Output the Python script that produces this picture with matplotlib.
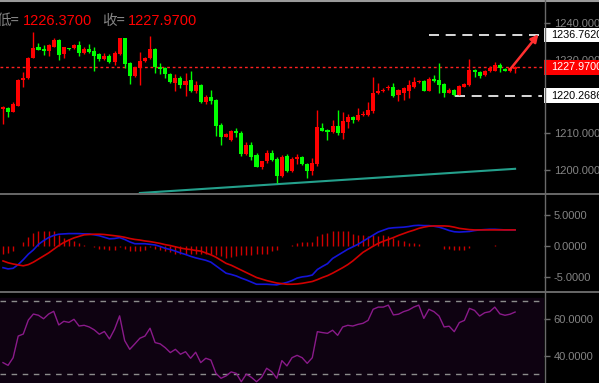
import numpy as np
import matplotlib
matplotlib.use('Agg')
import matplotlib.pyplot as plt
import matplotlib.transforms as mtransforms
from matplotlib.patches import Rectangle
from matplotlib.lines import Line2D

plt.rcParams['font.family'] = ['Liberation Sans', 'Noto Sans CJK SC', 'DejaVu Sans']

# candles (red = up, green = down)
opens = [1216.6, 1217.0, 1215.9, 1217.5, 1224.5, 1225.0, 1230.6, 1233.4, 1233.0, 1232.3,
         1233.6, 1235.5, 1231.6, 1233.2, 1233.2, 1234.1, 1231.8, 1233.0, 1232.3, 1231.6,
         1230.2, 1231.1, 1229.3, 1231.6, 1235.9, 1229.1, 1225.6, 1227.9, 1229.6, 1230.5,
         1233.0, 1228.0, 1227.7, 1226.2, 1223.8, 1225.0, 1223.2, 1224.5, 1221.4, 1223.2,
         1218.4, 1220.0, 1219.1, 1212.3, 1209.1, 1208.2, 1210.6, 1210.2, 1204.4, 1206.8,
         1204.1, 1200.9, 1202.3, 1204.5, 1203.0, 1198.4, 1203.8, 1199.7, 1202.9, 1203.5,
         1201.6, 1199.7, 1201.6, 1211.5, 1210.9, 1210.4, 1212.0, 1210.2, 1213.2, 1214.5,
         1213.6, 1215.0, 1215.0, 1216.1, 1220.9, 1221.4, 1222.3, 1222.6, 1220.3, 1220.9,
         1221.4, 1222.6, 1223.9, 1224.3, 1221.6, 1224.7, 1224.5, 1223.5, 1221.1, 1221.8,
         1220.5, 1222.7, 1223.2, 1227.3, 1226.8, 1225.9, 1226.9, 1227.1, 1228.6, 1227.5,
         1227.0, 1227.5]
highs = [1217.5, 1217.2, 1218.5, 1224.7, 1226.8, 1230.8, 1237.6, 1234.6, 1234.1, 1234.4,
         1235.9, 1235.7, 1233.6, 1233.3, 1234.4, 1235.2, 1233.5, 1234.4, 1233.4, 1231.8,
         1231.8, 1231.5, 1232.3, 1236.1, 1236.1, 1229.4, 1228.2, 1232.1, 1230.8, 1236.4,
         1233.2, 1229.1, 1228.0, 1226.4, 1226.2, 1225.6, 1226.4, 1227.0, 1224.3, 1223.5,
         1220.3, 1221.8, 1219.3, 1212.9, 1210.1, 1210.9, 1211.4, 1210.6, 1207.7, 1207.7,
         1204.7, 1202.5, 1205.3, 1205.3, 1203.5, 1204.1, 1204.4, 1203.6, 1204.4, 1203.7,
         1201.9, 1203.2, 1216.4, 1212.9, 1211.1, 1213.6, 1216.4, 1215.9, 1215.3, 1214.7,
         1217.0, 1216.1, 1218.4, 1225.4, 1223.6, 1222.3, 1223.2, 1223.8, 1222.0, 1222.5,
         1224.5, 1225.3, 1224.6, 1224.5, 1225.4, 1225.9, 1229.1, 1223.7, 1222.4, 1222.0,
         1223.1, 1223.6, 1230.2, 1227.5, 1227.0, 1227.3, 1228.4, 1229.3, 1229.1, 1227.7,
         1228.0, 1228.3]
lows = [1212.5, 1214.5, 1215.7, 1217.3, 1222.7, 1224.8, 1230.4, 1232.6, 1231.4, 1231.2,
        1233.4, 1230.0, 1230.6, 1232.8, 1233.0, 1231.1, 1231.5, 1231.9, 1227.1, 1229.8,
        1230.0, 1229.1, 1228.6, 1231.4, 1227.9, 1223.5, 1225.4, 1223.2, 1229.4, 1230.3,
        1226.5, 1226.1, 1225.2, 1223.8, 1221.6, 1222.3, 1220.2, 1221.2, 1220.9, 1218.2,
        1218.0, 1218.0, 1209.3, 1206.8, 1208.9, 1208.0, 1209.1, 1203.8, 1204.1, 1202.7,
        1200.7, 1200.3, 1201.8, 1202.3, 1196.5, 1198.0, 1199.5, 1199.4, 1201.6, 1201.4,
        1197.7, 1198.6, 1201.1, 1210.5, 1208.2, 1210.2, 1209.5, 1208.4, 1211.5, 1212.9,
        1213.4, 1214.8, 1214.8, 1215.5, 1220.7, 1221.2, 1221.8, 1220.0, 1218.8, 1219.1,
        1219.6, 1222.4, 1223.7, 1221.4, 1221.4, 1224.0, 1220.9, 1220.0, 1220.9, 1220.2,
        1220.3, 1222.5, 1223.0, 1225.3, 1225.0, 1225.6, 1226.7, 1226.9, 1226.8, 1226.9,
        1226.6, 1226.37]
closes = [1217.2, 1215.9, 1218.0, 1224.5, 1225.2, 1230.6, 1233.2, 1232.8, 1232.3, 1234.1,
          1235.5, 1231.4, 1233.4, 1232.9, 1234.1, 1232.0, 1232.9, 1232.1, 1231.2, 1230.2,
          1231.1, 1229.3, 1232.0, 1235.9, 1228.9, 1225.6, 1228.0, 1229.7, 1230.6, 1233.0,
          1228.0, 1227.5, 1226.1, 1224.1, 1225.0, 1223.2, 1224.3, 1221.4, 1223.2, 1218.4,
          1220.0, 1218.9, 1212.0, 1209.1, 1209.8, 1210.6, 1210.0, 1204.4, 1206.8, 1203.6,
          1200.9, 1202.3, 1204.7, 1202.7, 1198.4, 1203.5, 1199.7, 1202.9, 1203.5, 1201.6,
          1199.7, 1201.8, 1211.8, 1210.7, 1210.4, 1212.0, 1210.2, 1213.4, 1214.5, 1213.6,
          1215.0, 1215.3, 1216.4, 1221.1, 1221.6, 1221.6, 1222.7, 1220.2, 1221.8, 1222.3,
          1223.2, 1224.1, 1224.3, 1221.6, 1224.7, 1224.3, 1223.2, 1220.9, 1221.8, 1220.5,
          1222.9, 1223.5, 1227.3, 1226.8, 1225.6, 1227.0, 1227.9, 1228.6, 1227.7, 1227.1,
          1227.7, 1227.97]

# MACD panel
dif = [-3.5, -3.7, -3.6, -3.0, -2.2, -1.3, -0.6, 0.3, 0.9, 1.4,
       1.75, 1.95, 2.0, 2.05, 2.05, 2.05, 2.0, 2.0, 1.85, 1.7,
       1.45, 1.2, 1.25, 1.4, 1.1, 0.7, 0.4, 0.4, 0.4, 0.3,
       0.2, -0.05, -0.35, -0.55, -0.8, -1.1, -1.35, -1.65, -1.9, -2.1,
       -2.3, -2.6, -3.2, -3.8, -4.4, -4.6, -4.85, -5.2, -5.5, -5.85,
       -6.2, -6.2, -6.2, -6.25, -6.3, -6.1, -5.9, -5.6, -5.2, -5.0,
       -4.9, -4.7, -3.8, -3.3, -2.85, -2.0, -1.5, -1.0, -0.5, -0.1,
       0.3, 0.8, 1.3, 1.8, 2.3, 2.6, 2.9, 3.0, 3.05, 3.1,
       3.2, 3.35, 3.4, 3.35, 3.35, 3.25, 3.1, 2.85, 2.55, 2.35,
       2.3, 2.35, 2.4, 2.55, 2.65, 2.7, 2.75, 2.75, 2.7, 2.65, 2.65, 2.65]
dea = [-2.4, -2.7, -2.9, -3.05, -3.2, -3.0, -2.6, -2.1, -1.6, -1.1,
       -0.5, 0.1, 0.6, 1.0, 1.35, 1.6, 1.85, 1.9, 1.95, 1.95,
       1.9, 1.8, 1.7, 1.6, 1.45, 1.25, 1.1, 1.0, 0.85, 0.75,
       0.6, 0.45, 0.25, 0.1, -0.1, -0.3, -0.45, -0.55, -0.7, -0.8,
       -1.1, -1.4, -1.8, -2.3, -2.8, -3.1, -3.5, -3.9, -4.3, -4.7,
       -5.1, -5.35, -5.6, -5.8, -6.0, -6.1, -6.2, -6.2, -6.15, -6.05,
       -5.9, -5.75, -5.45, -5.1, -4.8, -4.4, -3.95, -3.5, -3.0, -2.4,
       -1.7, -1.0, -0.5, 0.0, 0.45, 0.8, 1.1, 1.4, 1.75, 2.05,
       2.35, 2.6, 2.9, 3.1, 3.25, 3.3, 3.3, 3.3, 3.25, 3.1,
       2.9, 2.8, 2.7, 2.65, 2.65, 2.65, 2.65, 2.65, 2.65, 2.65, 2.65, 2.65]
macd_hist = [-1.2, -1.1, -0.8, 0.1, 0.7, 1.5, 2.2, 2.5, 2.5, 2.5,
             2.5, 1.8, 1.4, 1.25, 0.9, 0.5, 0.2, 0.05, -0.2, -0.4,
             -0.5, -0.55, -0.55, -0.2, -0.4, -0.8, -0.8, -0.8, -0.55, -0.2,
             -0.4, -0.55, -0.8, -1.0, -1.2, -1.2, -1.2, -1.3, -1.35, -1.2,
             -1.2, -1.3, -1.5, -1.6, -1.85, -1.75, -1.6, -1.5, -1.5, -1.5,
             -1.35, -1.35, -1.2, -0.8, -0.65, -0.05, 0.0, 0.15, 0.5, 0.75,
             0.75, 0.75, 1.6, 2.0, 2.2, 2.4, 2.4, 2.4, 2.4, 2.0,
             1.85, 1.75, 1.6, 1.75, 1.6, 1.75, 1.6, 1.3, 1.0, 0.9,
             0.6, 0.6, 0.4, 0.1, 0.1, 0.1, 0.0, -0.5, -0.5, -0.7,
             -0.7, -0.7, -0.3, 0.0, 0.0, 0.1, 0.1, 0.15, 0.1, 0.1, 0.0, 0.0]

# RSI panel
rsi = [36.2, 34.7, 38.9, 50.8, 51.9, 59.6, 62.9, 62.2, 60.3, 62.9,
       64.4, 56.9, 58.9, 58.3, 60.0, 56.3, 56.7, 55.8, 54.2, 51.8,
       53.3, 49.2, 54.5, 61.9, 48.3, 43.5, 46.5, 49.6, 50.8, 55.1,
       47.2, 46.5, 44.4, 41.7, 43.5, 40.8, 42.2, 38.6, 41.9, 36.2,
       38.6, 37.6, 30.3, 27.6, 28.9, 31.1, 30.3, 25.7, 29.9, 28.1,
       25.7, 28.1, 33.1, 31.2, 27.6, 37.3, 34.4, 38.9, 40.2, 38.9,
       35.8, 38.9, 53.2, 52.7, 52.3, 54.0, 51.2, 55.8, 56.7, 56.3,
       57.2, 57.8, 59.4, 65.5, 66.7, 66.7, 67.8, 62.4, 62.8, 64.2,
       65.1, 66.7, 67.8, 60.5, 65.5, 64.2, 61.8, 55.8, 56.2, 53.2,
       58.2, 59.4, 66.0, 64.9, 61.8, 63.6, 64.2, 66.7, 63.0, 62.2, 62.8, 64.0]

last_price = 1227.97
last_low = 1226.37
upper_level = 1236.7620
lower_level = 1220.2686
trend_x = [27, 101]
trend_y = [1193.7, 1200.3]
price_ticks = [1200, 1210, 1220, 1230, 1240]
macd_ticks = [-5, 0, 5]
rsi_ticks = [40, 60]
rsi_bands = [70, 30]

W, H = 599, 383
GRAY = '#848484'
fig = plt.figure(figsize=(W / 100, H / 100), dpi=100, facecolor='black')


def panel(top, bottom):
    ax = fig.add_axes([0, 1 - bottom / H, 544 / W, (bottom - top) / H])
    ax.set_facecolor('black')
    for s in ax.spines.values():
        s.set_visible(False)
    ax.set_xticks([])
    ax.yaxis.tick_right()
    ax.tick_params(axis='y', colors='#6e6e6e', labelcolor=GRAY, labelsize=8,
                   length=4, width=1, pad=3)
    ax.set_xlim(-0.59, 106.7)
    return ax


ax1 = panel(2, 193)
ax2 = panel(194, 291)
ax3 = panel(292, 383)

# price panel
x = np.arange(len(closes))
for i in x:
    o, h, l, c = opens[i], highs[i], lows[i], closes[i]
    col = '#ff0000' if c >= o else '#00ff00'
    ax1.vlines(i, l, h, color=col, lw=1, zorder=3)
    body = max(abs(c - o), 0.3)
    ax1.bar(i, body, bottom=min(o, c), width=0.8, color=col, zorder=3)

ax1.set_ylim(1193.7, 1245.8)
ax1.set_yticks(price_ticks)
ax1.set_yticklabels(['%.4f' % t for t in price_ticks])

ax1.plot(trend_x, trend_y, color='#24a08c', lw=1.5, zorder=2)
ax1.axhline(last_price, color='#ff2020', lw=1, ls=(0, (2, 2)), zorder=2)
ax1.hlines(upper_level, 84.0, 106.3, color='white', lw=1.2, ls=(0, (6, 4)), zorder=2)
ax1.hlines(lower_level, 89.2, 106.3, color='white', lw=1.2, ls=(0, (6, 4)), zorder=2)
ax1.annotate('', xy=(105.6, 1237.0), xytext=(100.0, 1227.4),
             arrowprops=dict(arrowstyle='-|>', color='#ff3030', lw=1.8,
                             mutation_scale=11, shrinkA=0, shrinkB=0))

blend = mtransforms.blended_transform_factory(ax1.transAxes, ax1.transData)
for level, face, tc in [(upper_level, 'white', 'black'),
                        (last_price, '#ff0000', 'white'),
                        (lower_level, 'white', 'black')]:
    ax1.add_patch(Rectangle((1.0, level - 1.95), 0.11, 3.9, transform=blend,
                            facecolor=face, edgecolor='none', clip_on=False, zorder=6))
    ax1.text(1.0 + 7 / 544, level, '%.4f' % level, transform=blend, color=tc,
             fontsize=7.8, va='center', ha='left', clip_on=False, zorder=7)

# MACD panel
ax2.vlines(x, 0, macd_hist, color='#d00000', lw=1)
ax2.plot(x, dif, color='#1414d8', lw=1.2)
ax2.plot(x, dea, color='#d00000', lw=1.2)
ax2.set_ylim(-7.3, 8.5)
ax2.set_yticks(macd_ticks)
ax2.set_yticklabels(['%.4f' % t for t in macd_ticks])

# RSI panel
ax3.axhspan(25, 71.7, color='#0e0211', zorder=0)
for b in rsi_bands:
    ax3.axhline(b, color='#8c8c8c', lw=1, ls=(0, (4, 4)))
ax3.plot(x, rsi, color='#8a1a8a', lw=1)
ax3.set_ylim(25, 75)
ax3.set_yticks(rsi_ticks)
ax3.set_yticklabels(['%.4f' % t for t in rsi_ticks])

# frame lines
fig.add_artist(Line2D([0, 1], [1 - 0.8 / H] * 2, color='#9a9a9a', lw=1.5))
for yy in [193.5, 291.5]:
    fig.add_artist(Line2D([0, 1], [1 - yy / H] * 2, color='#7a7a7a', lw=1.2))
fig.add_artist(Line2D([544.5 / W] * 2, [0, 1], color='#6a6a6a', lw=1))

# header text
ty = 1 - 21 / H
fig.text(-3 / W, ty, '低=', color=GRAY, fontsize=10.5, va='center',
         family=['Noto Sans CJK SC'])
fig.text(23 / W, ty, '%.4f' % last_low, color='#ff0000', fontsize=10.5, va='center')
fig.text(102 / W, ty, '收=', color=GRAY, fontsize=10.5, va='center',
         family=['Noto Sans CJK SC'])
fig.text(128 / W, ty, '%.4f' % last_price, color='#ff0000', fontsize=10.5, va='center')

fig.savefig('out.png', dpi=100, facecolor='black')
